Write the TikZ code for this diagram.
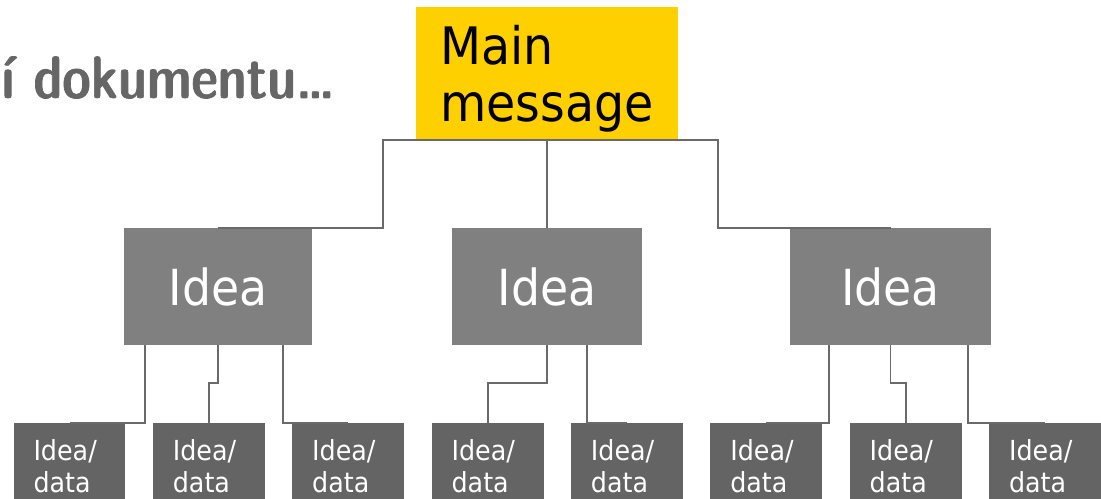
\documentclass[tikz,border=0pt]{standalone}
\usepackage{fontspec}
\newfontfamily\dejavu{DejaVu Sans}[FakeStretch=0.92]
\newfontfamily\headfont{lmsansdemicond10-regular}[Extension=.otf,FakeBold=1.2]
\usetikzlibrary{calc,positioning}
\definecolor{Gold}{HTML}{FFD000}
\definecolor{IdeaGray}{HTML}{808080}
\definecolor{DataGray}{HTML}{646464}
\definecolor{LinkGray}{HTML}{6A6A6A}
\definecolor{HeadGray}{HTML}{666666}

\begin{document}
\begin{tikzpicture}[x=0.02cm,y=-0.02cm,
mainbox/.style={fill=Gold,text=black,font=\dejavu\fontsize{29.4}{32.4}\selectfont,align=left,text width=4.28cm,inner xsep=0.48cm,inner ysep=0pt,minimum height=2.66cm,text depth=1.14cm},
idea/.style={fill=IdeaGray,text=white,font=\dejavu\fontsize{28.3}{33}\selectfont,minimum width=3.76cm,minimum height=2.34cm,inner sep=0pt},
datum/.style={fill=DataGray,text=white,font=\dejavu\fontsize{15.7}{18.2}\selectfont,align=left,text width=1.44cm,inner xsep=0.4cm,inner ysep=0pt,minimum height=1.72cm,anchor=north},
link/.style={draw=LinkGray,line width=1.1pt}]
\useasboundingbox (0,0) rectangle (1101,499);
\node[anchor=base east,inner sep=0pt,text=HeadGray,font=\headfont\fontsize{34}{40}\selectfont](head) at (335,98){í dokumentu\dots};
\node[mainbox](main) at (547,73.5){Main\\message};
\node[idea](idea1) at (218,286.5){Idea};
\node[idea,minimum width=3.8cm](idea2) at (547,286.5){Idea};
\node[idea,minimum width=4.02cm](idea3) at (890.5,286.5){Idea};
\foreach \i in {1,...,8}
  \node[datum](d\i) at ({69.5+139.36*(\i-1)},423){Idea/\\data};
% main message to ideas
\draw[link](main.south)-- ++(-164,0) |- (idea1.north);
\draw[link](main.south)--(idea2.north);
\draw[link](main.south)-- ++(171,0) |- (idea3.north);
% ideas to data
\draw[link]($(idea1.south west)+(21,0)$) |- (d1.north);
\draw[link](idea1.south)-- ++(0,38) -| (d2.north);
\draw[link]($(idea1.south east)+(-29,0)$) |- (d3.north);
\draw[link](idea2.south)-- ++(0,38) -| (d4.north);
\draw[link]($(idea2.south east)+(-55,0)$) |- (d5.north);
\draw[link]($(idea3.south west)+(39,0)$) |- (d6.north);
\draw[link](idea3.south)-- ++(0,38) -| (d7.north);
\draw[link]($(idea3.south east)+(-23,0)$) |- (d8.north);
\end{tikzpicture}
\end{document}
